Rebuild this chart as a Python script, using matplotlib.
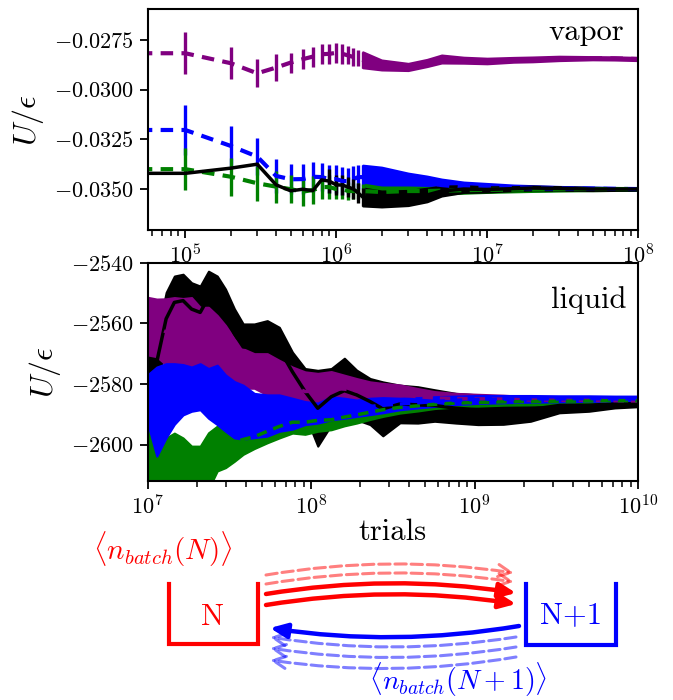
import numpy as np
import matplotlib
matplotlib.use('Agg')
import matplotlib.pyplot as plt
from matplotlib.patches import FancyArrowPatch
from matplotlib.ticker import FuncFormatter, FixedLocator

plt.rcParams['font.family'] = ['cmr10', 'DejaVu Serif']
plt.rcParams['mathtext.fontset'] = 'cm'
plt.rcParams['axes.formatter.use_mathtext'] = True
plt.rcParams['axes.linewidth'] = 1.5
plt.rcParams['xtick.major.width'] = 1.3
plt.rcParams['ytick.major.width'] = 1.3
plt.rcParams['xtick.minor.width'] = 1.1
plt.rcParams['xtick.major.size'] = 6
plt.rcParams['ytick.major.size'] = 6
plt.rcParams['xtick.minor.size'] = 4

# ---- vapor panel: running average of U/eps vs trials ----
vap_x = [5e4, 1e5, 2e5, 3e5, 4e5, 5e5, 6e5, 7e5, 8e5, 9e5, 1e6, 1.1e6, 1.2e6, 1.3e6,
         1.4e6, 1.5e6, 2e6, 3e6, 4e6, 5e6, 7e6, 1e7, 1.5e7, 2e7, 3e7, 5e7, 7e7, 1e8]
vap_purple = [-0.02817, -0.02817, -0.02867, -0.02918, -0.02889, -0.02864, -0.02847, -0.02834,
              -0.02822, -0.02820, -0.02815, -0.02820, -0.02828, -0.02836, -0.02843, -0.02850,
              -0.02876, -0.02886, -0.02866, -0.02846, -0.02852, -0.02856, -0.02850, -0.02848,
              -0.02843, -0.02842, -0.02843, -0.02846]
vap_purple_err = [0.00106, 0.00106, 0.0008, 0.0007, 0.00067, 0.0005, 0.0005, 0.0005, 0.0005,
                  0.0005, 0.0005, 0.0005, 0.00045, 0.00045, 0.0004, 0.0004, 0.00025, 0.00018,
                  0.00018, 0.0002, 0.00015, 0.00014, 0.00012, 0.00012, 0.00011, 0.00008,
                  0.00008, 0.00008]
vap_blue = [-0.03203, -0.03203, -0.03283, -0.03337, -0.03434, -0.03451, -0.03450, -0.03438,
            -0.03440, -0.03450, -0.03450, -0.03460, -0.03460, -0.03450, -0.03440, -0.03440,
            -0.03440, -0.03460, -0.03470, -0.03480, -0.03490, -0.03492, -0.03495, -0.03496,
            -0.03497, -0.03498, -0.03499, -0.03500]
vap_blue_err = [0.00124, 0.00124, 0.001, 0.00094, 0.00085, 0.00075, 0.00075, 0.00075, 0.0007,
                0.0007, 0.0007, 0.0007, 0.00065, 0.00065, 0.0006, 0.0006, 0.0005, 0.0004,
                0.00035, 0.0003, 0.00025, 0.0002, 0.00015, 0.00013, 0.0001, 0.00008, 0.00007,
                0.00006]
vap_green = [-0.03400, -0.03400, -0.03438, -0.03471, -0.03488, -0.03501, -0.03513, -0.03505,
             -0.03490, -0.03490, -0.03500, -0.03500, -0.03510, -0.03510, -0.03510, -0.03510,
             -0.03515, -0.03510, -0.03510, -0.03508, -0.03506, -0.03504, -0.03503, -0.03502,
             -0.03501, -0.03500, -0.03500, -0.03500]
vap_green_err = [0.00105, 0.00105, 0.00095, 0.00088, 0.0008, 0.0007, 0.0007, 0.0007, 0.0006,
                 0.0006, 0.0005, 0.0005, 0.00045, 0.0004, 0.0004, 0.00035, 0.00025, 0.0002,
                 0.00018, 0.00017, 0.00015, 0.00013, 0.00011, 0.0001, 0.00009, 0.00008,
                 0.00007, 0.00006]
vap_black = [-0.03421, -0.03421, -0.03395, -0.03375, -0.03479, -0.03509, -0.03501, -0.03508,
             -0.03454, -0.03460, -0.03479, -0.03480, -0.03490, -0.03500, -0.03520, -0.03540,
             -0.03550, -0.03545, -0.03530, -0.03510, -0.03500, -0.03502, -0.03498, -0.03495,
             -0.03497, -0.03500, -0.03500, -0.03500]
vap_black_err = [0, 0, 0, 0, 0, 0, 0, 0, 0, 0.0006, 0.0005, 0.0005, 0.0005, 0.0005, 0.0005,
                 0.00045, 0.0004, 0.00038, 0.00034, 0.00025, 0.00017, 0.00013, 0.0001, 0.0001,
                 0.00009, 0.00008, 0.00007, 0.00006]
vap_yticks = [-0.0275, -0.0300, -0.0325, -0.0350]

# ---- liquid panel ----
liq_x = [1.0e7, 1.14e7, 1.3e7, 1.46e7, 1.65e7, 1.86e7, 2.1e7, 2.36e7, 2.67e7, 3.0e7, 3.4e7,
         3.85e7, 4.5e7, 5.4e7, 6.4e7, 7.7e7, 9.2e7, 1.1e8, 1.33e8, 1.6e8, 1.9e8, 2.3e8,
         2.75e8, 3.5e8, 4.5e8, 5.7e8, 7.7e8, 1.05e9, 1.5e9, 2.2e9, 3.3e9, 5e9, 7.2e9, 1e10]
liq_black = [-2574.4, -2572.7, -2558.5, -2553.1, -2552.5, -2555.3, -2556.4, -2551.5, -2553.1,
             -2557.4, -2563.4, -2567.8, -2567.8, -2566.7, -2568.4, -2576.0, -2582.5, -2588.0,
             -2584.2, -2582.2, -2583.6, -2585.8, -2588.2, -2586.6, -2586.9, -2587.1, -2588.0,
             -2588.5, -2588.7, -2588.4, -2587.1, -2587.0, -2586.6, -2586.5]
liq_black_err = [7.1, 8.2, 8.7, 8.7, 8.7, 8.7, 8.7, 8.7, 8.7, 8.7, 8.2, 7.6, 7.6, 7.6, 7.1, 6.5,
                 7.6, 12.5, 9.3, 10.7, 8.2, 7.6, 8.9, 6.2, 6.0, 5.2, 4.9, 4.9, 4.6, 3.9, 2.4,
                 2.0, 1.3, 1.0]
liq_purple = [-2560.9, -2561.5, -2562.8, -2563.7, -2565.0, -2564.8, -2566.4, -2565.3, -2567.8,
              -2570.5, -2572.7, -2574.9, -2575.7, -2576.8, -2578.4, -2580.6, -2582.5, -2582.2,
              -2581.4, -2581.7, -2582.2, -2583.1, -2583.3, -2583.6, -2584.2, -2584.6, -2584.8,
              -2584.9, -2585.0, -2585.3, -2585.4, -2585.4, -2585.5, -2585.6]
liq_purple_err = [9.5, 9.5, 10.9, 12.2, 13.2, 13.3, 11.7, 10.6, 10.4, 9.8, 7.6, 6.5, 5.7, 6.8,
                  6.2, 6.2, 6.5, 5.7, 5.5, 4.6, 4.0, 3.8, 3.5, 3.3, 2.7, 2.1, 1.7, 1.5, 1.3,
                  1.1, 1.0, 0.9, 0.8, 0.7]
liq_blue = [-2584.9, -2589.1, -2585.5, -2583.3, -2581.9, -2581.7, -2580.9, -2583.1, -2583.6,
            -2586.3, -2588.5, -2589.3, -2590.4, -2590.4, -2589.6, -2589.8, -2589.6, -2589.6,
            -2588.0, -2588.0, -2588.0, -2587.4, -2587.0, -2586.6, -2586.2, -2585.8, -2585.4,
            -2585.1, -2585.0, -2584.9, -2584.9, -2584.8, -2584.9, -2584.9]
liq_blue_err = [7.9, 14.7, 12.2, 10.0, 8.3, 7.3, 7.6, 8.2, 9.8, 9.3, 9.3, 8.9, 7.3, 6.8, 6.0,
                5.1, 3.8, 3.3, 3.8, 3.3, 2.7, 2.7, 2.5, 1.9, 1.7, 1.6, 1.4, 1.3, 1.2, 1.1, 1.0,
                0.9, 0.9, 0.9]
liq_green = [-2602.7, -2606.5, -2607.6, -2606.0, -2607.6, -2610.3, -2610.3, -2605.4, -2601.3,
             -2600.4, -2599.2, -2598.3, -2597.4, -2595.6, -2594.0, -2592.6, -2592.6, -2592.0,
             -2591.8, -2590.9, -2590.2, -2589.3, -2588.5, -2587.7, -2587.2, -2586.7, -2586.3,
             -2586.1, -2585.9, -2585.8, -2585.7, -2585.6, -2585.5, -2585.5]
liq_green_err = [9.8, 9.8, 9.8, 9.8, 9.8, 9.8, 9.8, 9.3, 7.4, 7.2, 6.3, 4.9, 3.9, 3.8, 3.8, 3.6,
                 4.0, 3.6, 3.3, 2.9, 2.7, 2.4, 2.2, 1.9, 1.7, 1.4, 1.3, 1.2, 1.1, 1.1, 1.0,
                 1.0, 0.9, 0.9]
liq_yticks = [-2540, -2560, -2580, -2600]

DASH = (0, (3.0, 2.0))


def math_fmt(fmt):
    return FuncFormatter(lambda v, p: r'$\mathdefault{%s}$' % (fmt % v).replace('-', '\u2212'))


fig = plt.figure(figsize=(6.73, 7.0), dpi=100)
W, H = 673.0, 700.0
ax1 = fig.add_axes([147.5 / W, 1 - 230 / H, 490.5 / W, 220.7 / H])
ax2 = fig.add_axes([147.5 / W, 1 - 481 / H, 490.5 / W, 218.3 / H])

# vapor: separate error bars at low trial counts, merged band afterwards
vx = np.array(vap_x)
split = vap_x.index(1.5e6)
vap_series = [('purple', vap_purple, vap_purple_err, DASH, 3.0),
              ('blue', vap_blue, vap_blue_err, DASH, 3.0),
              ('green', vap_green, vap_green_err, DASH, 3.0),
              ('black', vap_black, vap_black_err, '-', 2.5)]
for c, y, e, ls, lw in vap_series:
    y = np.array(y)
    e = np.array(e)
    ax1.errorbar(vx[:split + 1], y[:split + 1], yerr=e[:split + 1], fmt='none',
                 ecolor=c, elinewidth=2.4)
    ax1.fill_between(vx[split:], y[split:] - e[split:], y[split:] + e[split:],
                     color=c, lw=1.5, edgecolor=c)
for c, y, e, ls, lw in vap_series:
    ax1.plot(vx, y, color=c, ls=ls, lw=lw)

ax1.set_xscale('log')
ax1.set_xlim(10 ** 4.75, 1e8)
ax1.set_ylim(-0.03706, -0.02596)
ax1.yaxis.set_major_locator(FixedLocator(vap_yticks))
ax1.yaxis.set_major_formatter(math_fmt('%.4f'))
ax1.set_ylabel(r'$U/\epsilon$', fontsize=23, labelpad=6)
ax1.text(0.972, 0.96, 'vapor', transform=ax1.transAxes, ha='right', va='top', fontsize=22)

# liquid: dense running averages drawn as bands
lx = np.array(liq_x)
liq_series = [('black', liq_black, liq_black_err, '-', 2.5),
              ('purple', liq_purple, liq_purple_err, DASH, 2.5),
              ('green', liq_green, liq_green_err, DASH, 2.5),
              ('blue', liq_blue, liq_blue_err, DASH, 2.5)]
for c, y, e, ls, lw in liq_series:
    y = np.array(y)
    e = np.array(e)
    ax2.fill_between(lx, y - e, y + e, color=c, lw=1.5, edgecolor=c)
for c, y, e, ls, lw in liq_series:
    ax2.plot(lx, y, color=c, ls=ls, lw=lw)

ax2.set_xscale('log')
ax2.set_xlim(1e7, 1e10)
ax2.set_ylim(-2612, -2540)
ax2.yaxis.set_major_locator(FixedLocator(liq_yticks))
ax2.yaxis.set_major_formatter(math_fmt('%d'))
ax2.set_ylabel(r'$U/\epsilon$', fontsize=23, labelpad=6)
ax2.set_xlabel('trials', fontsize=22, labelpad=0)
ax2.text(0.977, 0.895, 'liquid', transform=ax2.transAxes, ha='right', va='top', fontsize=22)

for ax in (ax1, ax2):
    ax.tick_params(labelsize=16)
    ax.tick_params(axis='y', which='minor', left=False)

# ---- bottom sketch: particle exchange between N and N+1 ----
ax3 = fig.add_axes([0, 0, 1, 175 / H])
ax3.set_xlim(0, W)
ax3.set_ylim(H, H - 175)
ax3.axis('off')

ax3.plot([169, 169, 258, 258], [584, 644, 644, 584], color='red', lw=3, solid_joinstyle='miter')
ax3.plot([526, 526, 616, 616], [584, 645, 645, 584], color='blue', lw=3, solid_joinstyle='miter')
ax3.text(213, 617, 'N', color='red', fontsize=22, ha='center', va='center')
ax3.text(571, 615, 'N+1', color='blue', fontsize=22, ha='center', va='center')
ax3.text(163, 549, r'$\langle n_{batch}(N)\rangle$', color='red', fontsize=21,
         ha='center', va='center')
ax3.text(458, 680, r'$\langle n_{batch}(N+1)\rangle$', color='blue', fontsize=20,
         ha='center', va='center')


def arrow(p0, p1, color, solid):
    if solid:
        style = '-|>,head_length=0.5,head_width=0.22'
        kw = dict(lw=3.2, color=color)
    else:
        style = '->,head_length=0.45,head_width=0.22'
        kw = dict(lw=2.2, color=color, alpha=0.5, linestyle='--')
    ax3.add_patch(FancyArrowPatch(p0, p1, arrowstyle=style, mutation_scale=20,
                                  connectionstyle='arc3,rad=-0.08',
                                  shrinkA=0, shrinkB=0, **kw))


arrow((266, 575), (514, 573), 'red', False)
arrow((266, 584), (514, 582), 'red', False)
arrow((266, 594), (516, 593), 'red', True)
arrow((266, 605), (516, 604), 'red', True)
arrow((519, 626), (270, 628), 'blue', True)
arrow((516, 637), (270, 637), 'blue', False)
arrow((516, 647), (270, 648), 'blue', False)
arrow((516, 657), (270, 660), 'blue', False)

fig.savefig('out.png', dpi=100)
